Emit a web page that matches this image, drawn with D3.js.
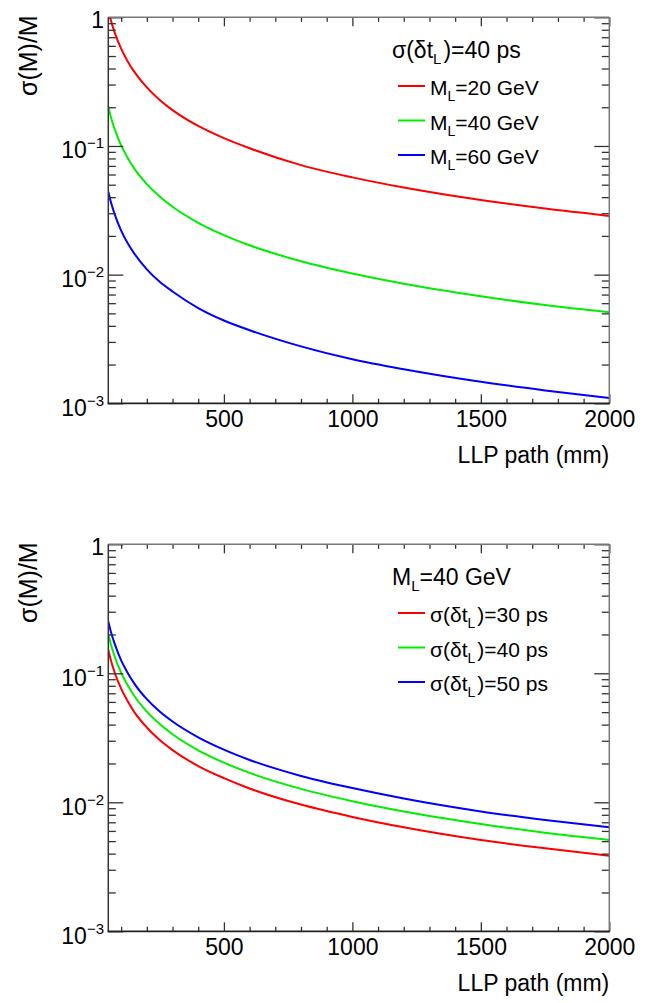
<!DOCTYPE html>
<html>
<head>
<meta charset="utf-8">
<script src="https://cdn.jsdelivr.net/npm/d3@7"></script>
<style>
  html, body { margin: 0; padding: 0; background: #ffffff; }
  svg { display: block; }
  text { font-family: "Liberation Sans", Arial, Helvetica, sans-serif; fill: #000; }
</style>
</head>
<body>
<svg id="chart" width="648" height="1003"></svg>
<script>
// LLP flight path (mm) at which the resolution curves are sampled
const pathMM = [50, 60, 75, 100, 125, 150, 200, 250, 300, 400, 500, 600, 800, 1000, 1200, 1500, 1750, 2000];

// Upper panel: sigma(dt_L) = 40 ps, three LLP masses
const massSeriesLabels = ["20", "40", "60"];
const resM20 = [1.14, 0.95, 0.76, 0.57, 0.456, 0.38, 0.285, 0.228, 0.19, 0.143, 0.115, 0.096, 0.071, 0.057, 0.0475, 0.038, 0.0326, 0.0286];
const resM40 = [0.202, 0.168, 0.135, 0.101, 0.081, 0.0673, 0.0505, 0.0404, 0.0337, 0.0253, 0.0203, 0.0169, 0.0127, 0.0102, 0.0085, 0.0068, 0.0058, 0.0051];
const resM60 = [0.044, 0.0367, 0.0294, 0.022, 0.0176, 0.0147, 0.011, 0.0088, 0.0074, 0.0055, 0.0044, 0.0037, 0.00277, 0.0022, 0.00184, 0.00147, 0.00126, 0.0011];

// Lower panel: M_L = 40 GeV, three timing resolutions
const timingSeriesLabels = ["30", "40", "50"];
const resT30 = [0.152, 0.126, 0.101, 0.076, 0.061, 0.0505, 0.038, 0.0304, 0.0254, 0.0191, 0.0154, 0.0128, 0.0096, 0.0077, 0.0064, 0.0051, 0.0044, 0.00385];
const resT40 = [0.202, 0.168, 0.135, 0.101, 0.081, 0.0673, 0.0505, 0.0404, 0.0337, 0.0253, 0.0203, 0.0169, 0.0127, 0.0102, 0.0085, 0.0068, 0.0058, 0.0051];
const resT50 = [0.252, 0.21, 0.169, 0.126, 0.101, 0.084, 0.063, 0.0505, 0.0423, 0.0319, 0.0256, 0.0213, 0.016, 0.0129, 0.0107, 0.0085, 0.0073, 0.0064];

// Axis ticks
const xMajorTicks = [500, 1000, 1500, 2000];
const xMinorTicks = [100, 200, 300, 400, 600, 700, 800, 900, 1100, 1200, 1300, 1400, 1600, 1700, 1800, 1900];
const yDecades = [1e-3, 1e-2, 1e-1, 1];
const yDecadeLabels = [["10", "\u22123"], ["10", "\u22122"], ["10", "\u22121"], ["1", ""]];

const lineColors = ["#ff0000", "#00ee00", "#0000ff"];

const svg = d3.select("#chart");
const FRAME_L = 108.3, FRAME_R = 609.3;
const FONT = 23;

function yMinorTicks() {
  const t = [];
  for (const d of [1e-3, 1e-2, 1e-1]) for (let k = 2; k <= 9; k++) t.push(+(d * k).toPrecision(3));
  return t;
}

function drawPanel(id, top, bottom, series, header, entries) {
  const g = svg.append("g").attr("class", "panel-" + id);
  const x = d3.scaleLinear().domain([50, 2000]).range([FRAME_L, FRAME_R]);
  const y = d3.scaleLog().domain([1e-3, 1]).range([bottom, top]);

  // clip for curves
  const clipId = "clip-" + id;
  svg.append("defs").append("clipPath").attr("id", clipId)
    .append("rect").attr("x", FRAME_L).attr("y", top)
    .attr("width", FRAME_R - FRAME_L).attr("height", bottom - top);

  const line = d3.line()
    .x((d, i) => x(pathMM[i]))
    .y(d => y(d))
    .curve(d3.curveMonotoneX);

  const curves = g.append("g").attr("clip-path", `url(#${clipId})`);
  series.forEach((vals, i) => {
    curves.append("path")
      .datum(vals)
      .attr("d", line)
      .attr("fill", "none")
      .attr("stroke", lineColors[i])
      .attr("stroke-width", 2);
  });

  const tickColor = "#333";
  function styleAxis(sel) {
    sel.select(".domain").remove();
    sel.selectAll(".tick line").attr("stroke", tickColor).attr("stroke-width", 1.3);
  }

  // bottom axis: major with labels, minor without
  const xb = g.append("g").attr("transform", `translate(0,${bottom})`)
    .call(d3.axisBottom(x).tickValues(xMajorTicks).tickSize(-9).tickPadding(7).tickFormat(d3.format("d")));
  styleAxis(xb);
  xb.selectAll("text").attr("font-size", FONT).attr("fill", "#000")
    .attr("font-family", '"Liberation Sans", Arial, sans-serif');
  const xbm = g.append("g").attr("transform", `translate(0,${bottom})`)
    .call(d3.axisBottom(x).tickValues(xMinorTicks).tickSize(-4.5).tickFormat(""));
  styleAxis(xbm);

  // top axis ticks (mirror)
  const xt = g.append("g").attr("transform", `translate(0,${top})`)
    .call(d3.axisTop(x).tickValues(xMajorTicks).tickSize(-9).tickFormat(""));
  styleAxis(xt);
  const xtm = g.append("g").attr("transform", `translate(0,${top})`)
    .call(d3.axisTop(x).tickValues(xMinorTicks).tickSize(-4.5).tickFormat(""));
  styleAxis(xtm);

  // left axis
  const yl = g.append("g").attr("transform", `translate(${FRAME_L},0)`)
    .call(d3.axisLeft(y).tickValues(yDecades).tickSize(-15).tickPadding(4.3).tickFormat(""));
  styleAxis(yl);
  yl.selectAll(".tick").each(function (d, i) {
    const lab = yDecadeLabels[i];
    const t = d3.select(this).select("text")
      .attr("font-size", FONT).attr("fill", "#000")
      .attr("dy", null)
      .attr("font-family", '"Liberation Sans", Arial, sans-serif');
    if (lab[1] === "") {
      t.attr("y", 10).text(lab[0]);
    } else {
      t.attr("y", 12);
      t.append("tspan").text(lab[0]);
      t.append("tspan").attr("dy", -10).attr("font-size", 15).text(lab[1]);
    }
  });
  const ylm = g.append("g").attr("transform", `translate(${FRAME_L},0)`)
    .call(d3.axisLeft(y).tickValues(yMinorTicks()).tickSize(-7.5).tickFormat(""));
  styleAxis(ylm);

  // right axis ticks (mirror)
  const yr = g.append("g").attr("transform", `translate(${FRAME_R},0)`)
    .call(d3.axisRight(y).tickValues(yDecades).tickSize(-15).tickFormat(""));
  styleAxis(yr);
  const yrm = g.append("g").attr("transform", `translate(${FRAME_R},0)`)
    .call(d3.axisRight(y).tickValues(yMinorTicks()).tickSize(-7.5).tickFormat(""));
  styleAxis(yrm);

  // frame
  g.append("line").attr("x1", FRAME_L).attr("x2", FRAME_R).attr("y1", top).attr("y2", top)
    .attr("stroke", "#777").attr("stroke-width", 1.5);
  g.append("line").attr("x1", FRAME_R).attr("x2", FRAME_R).attr("y1", top).attr("y2", bottom)
    .attr("stroke", "#777").attr("stroke-width", 1.5);
  g.append("line").attr("x1", FRAME_L).attr("x2", FRAME_L).attr("y1", top).attr("y2", bottom)
    .attr("stroke", "#333").attr("stroke-width", 1.5);
  g.append("line").attr("x1", FRAME_L - 0.75).attr("x2", FRAME_R + 0.75).attr("y1", bottom).attr("y2", bottom)
    .attr("stroke", "#222").attr("stroke-width", 1.8);

  // axis titles
  g.append("text")
    .attr("x", FRAME_R).attr("y", bottom + 60)
    .attr("text-anchor", "end").attr("font-size", FONT)
    .text("LLP path (mm)");
  g.append("text")
    .attr("transform", `translate(37,${top - 2}) rotate(-90)`)
    .attr("text-anchor", "end").attr("font-size", 25)
    .text("\u03c3(M)/M");

  // legend
  const hdr = g.append("text").attr("x", 392).attr("y", top + 41).attr("font-size", 23);
  header(hdr, 15);
  const rowOffsets = [68.7, 103.2, 137.7];
  entries.forEach((fill, i) => {
    const ly = top + rowOffsets[i];
    g.append("line").attr("x1", 398).attr("x2", 425).attr("y1", ly).attr("y2", ly)
      .attr("stroke", lineColors[i]).attr("stroke-width", 2);
    const t = g.append("text").attr("x", 430).attr("y", ly + 9).attr("font-size", 21);
    fill(t, 14);
  });
}

// text builders with subscripts
function massText(t, m, subSize) {
  t.append("tspan").text("M");
  t.append("tspan").attr("dy", 6).attr("font-size", subSize).text("L");
  t.append("tspan").attr("dy", -6).text("=" + m + " GeV");
}
function timingText(t, ps, subSize) {
  t.append("tspan").text("\u03c3(\u03b4t");
  t.append("tspan").attr("dy", 6).attr("font-size", subSize).text("L");
  t.append("tspan").attr("dy", -6).attr("dx", 2).text(")=" + ps + " ps");
}

drawPanel("mass", 17.3, 403.3, [resM20, resM40, resM60],
  (t, s) => timingText(t, "40", s),
  massSeriesLabels.map(m => (t, s) => massText(t, m, s)));

drawPanel("timing", 544.3, 931.3, [resT30, resT40, resT50],
  (t, s) => massText(t, "40", s),
  timingSeriesLabels.map(ps => (t, s) => timingText(t, ps, s)));
</script>
</body>
</html>
